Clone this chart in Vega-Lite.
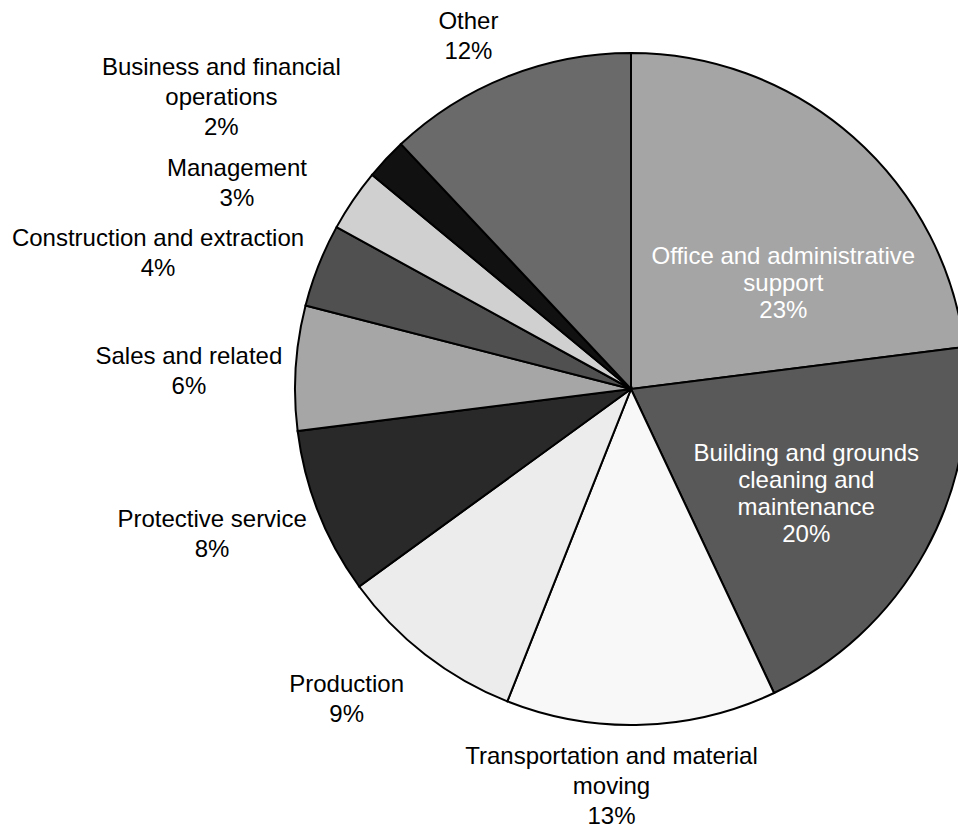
{
  "$schema": "https://vega.github.io/schema/vega-lite/v6.json",
  "width": 654,
  "height": 778,
  "autosize": {"type": "none"},
  "padding": {"left": 304, "top": 0, "right": 0, "bottom": 50},
  "background": "white",
  "config": {"view": {"stroke": null}, "text": {"font": "Liberation Sans", "fontSize": 24, "lineBreak": "\n"}},
  "data": {"values": [
    {"category": "Office and administrative support", "value": 23, "label": "Office and administrative\nsupport\n23%"},
    {"category": "Building and grounds cleaning and maintenance", "value": 20, "label": "Building and grounds\ncleaning and\nmaintenance\n20%"},
    {"category": "Transportation and material moving", "value": 13, "label": "Transportation and material\nmoving\n13%"},
    {"category": "Production", "value": 9, "label": "Production\n9%"},
    {"category": "Protective service", "value": 8, "label": "Protective service\n8%"},
    {"category": "Sales and related", "value": 6, "label": "Sales and related\n6%"},
    {"category": "Construction and extraction", "value": 4, "label": "Construction and extraction\n4%"},
    {"category": "Management", "value": 3, "label": "Management\n3%"},
    {"category": "Business and financial operations", "value": 2, "label": "Business and financial\noperations\n2%"},
    {"category": "Other", "value": 12, "label": "Other\n12%"}
  ]},
  "transform": [
    {"stack": "value", "groupby": [], "as": ["v0", "v1"]},
    {"calculate": "(datum.v0 + datum.v1) / 2", "as": "mid"}
  ],
  "layer": [
    {
      "mark": {"type": "arc", "outerRadius": 336, "stroke": "black", "strokeWidth": 2},
      "encoding": {
        "theta": {"field": "v0", "type": "quantitative", "scale": {"domain": [0, 100]}},
        "theta2": {"field": "v1"},
        "color": {"field": "category", "type": "nominal", "legend": null,
          "scale": {
            "domain": ["Office and administrative support", "Building and grounds cleaning and maintenance", "Transportation and material moving", "Production", "Protective service", "Sales and related", "Construction and extraction", "Management", "Business and financial operations", "Other"],
            "range": ["#a5a5a5", "#595959", "#f8f8f8", "#ececec", "#292929", "#a6a6a6", "#505050", "#d0d0d0", "#111111", "#6a6a6a"]
          }}
      }
    },
    {
      "transform": [{"filter": "datum.category === 'Office and administrative support'"}],
      "mark": {"type": "text", "radius": 185, "dx": 30, "dy": 7, "color": "white", "lineHeight": 27},
      "encoding": {"theta": {"field": "mid", "type": "quantitative", "scale": {"domain": [0, 100]}}, "text": {"field": "label"}}
    },
    {
      "transform": [{"filter": "datum.category === 'Building and grounds cleaning and maintenance'"}],
      "mark": {"type": "text", "radius": 200, "dy": -31, "color": "white", "lineHeight": 27},
      "encoding": {"theta": {"field": "mid", "type": "quantitative", "scale": {"domain": [0, 100]}}, "text": {"field": "label"}}
    },
    {
      "transform": [{"filter": "datum.category === 'Transportation and material moving'"}],
      "mark": {"type": "text", "radius": 398, "dx": -32, "dy": -30, "color": "black", "lineHeight": 30},
      "encoding": {"theta": {"field": "mid", "type": "quantitative", "scale": {"domain": [0, 100]}}, "text": {"field": "label"}}
    },
    {
      "transform": [{"filter": "datum.category === 'Production'"}],
      "mark": {"type": "text", "radius": 415, "dx": -30, "dy": -32, "color": "black", "lineHeight": 30},
      "encoding": {"theta": {"field": "mid", "type": "quantitative", "scale": {"domain": [0, 100]}}, "text": {"field": "label"}}
    },
    {
      "transform": [{"filter": "datum.category === 'Protective service'"}],
      "mark": {"type": "text", "radius": 443, "dx": -7, "dy": -32, "color": "black", "lineHeight": 30},
      "encoding": {"theta": {"field": "mid", "type": "quantitative", "scale": {"domain": [0, 100]}}, "text": {"field": "label"}}
    },
    {
      "transform": [{"filter": "datum.category === 'Sales and related'"}],
      "mark": {"type": "text", "radius": 443, "dy": -4, "color": "black", "lineHeight": 30},
      "encoding": {"theta": {"field": "mid", "type": "quantitative", "scale": {"domain": [0, 100]}}, "text": {"field": "label"}}
    },
    {
      "transform": [{"filter": "datum.category === 'Construction and extraction'"}],
      "mark": {"type": "text", "radius": 470, "dx": -36, "dy": 23, "color": "black", "lineHeight": 30},
      "encoding": {"theta": {"field": "mid", "type": "quantitative", "scale": {"domain": [0, 100]}}, "text": {"field": "label"}}
    },
    {
      "transform": [{"filter": "datum.category === 'Management'"}],
      "mark": {"type": "text", "radius": 445, "dx": -26, "dy": 30, "color": "black", "lineHeight": 30},
      "encoding": {"theta": {"field": "mid", "type": "quantitative", "scale": {"domain": [0, 100]}}, "text": {"field": "label"}}
    },
    {
      "transform": [{"filter": "datum.category === 'Business and financial operations'"}],
      "mark": {"type": "text", "radius": 503, "dx": -43, "dy": 23, "color": "black", "lineHeight": 30},
      "encoding": {"theta": {"field": "mid", "type": "quantitative", "scale": {"domain": [0, 100]}}, "text": {"field": "label"}}
    },
    {
      "transform": [{"filter": "datum.category === 'Other'"}],
      "mark": {"type": "text", "radius": 390, "dx": -19, "dy": -4, "color": "black", "lineHeight": 30},
      "encoding": {"theta": {"field": "mid", "type": "quantitative", "scale": {"domain": [0, 100]}}, "text": {"field": "label"}}
    }
  ]
}
